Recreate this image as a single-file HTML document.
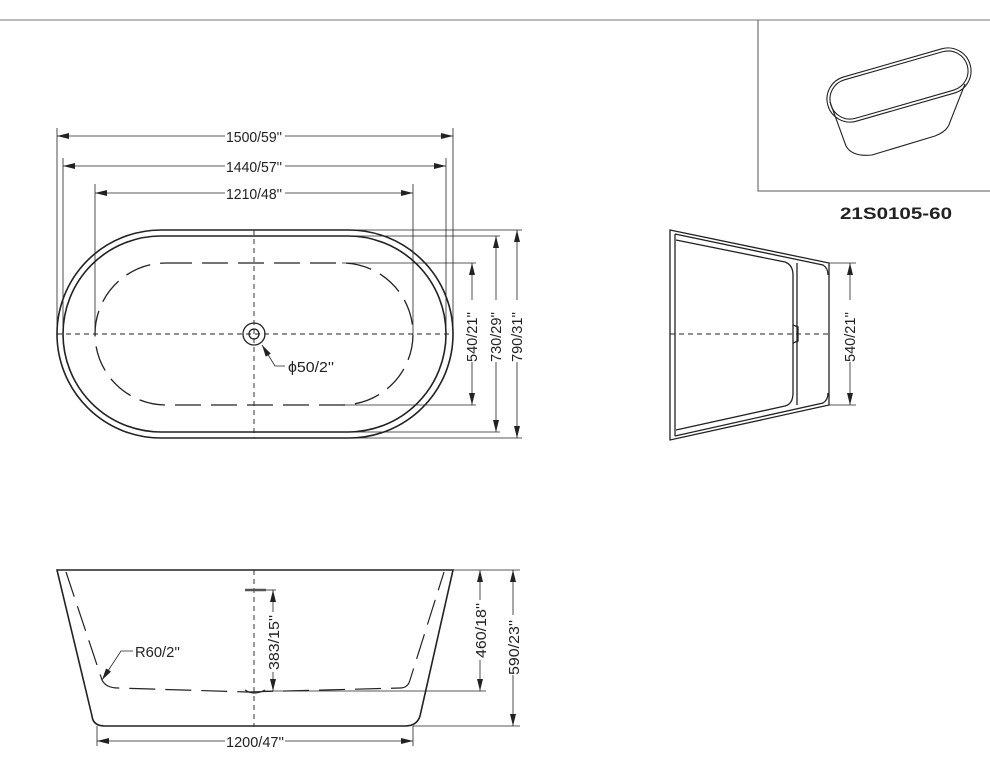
<!DOCTYPE html>
<html><head><meta charset="utf-8"><style>
html,body{margin:0;padding:0;background:#fff;}
svg{display:block;}
text{font-family:"Liberation Sans",sans-serif;font-size:15px;fill:#222;}
</style></head><body>
<svg width="990" height="770" viewBox="0 0 990 770" xmlns="http://www.w3.org/2000/svg">
<defs>
<marker id="a" viewBox="0 0 12 6" refX="12" refY="3" markerWidth="12" markerHeight="6" orient="auto-start-reverse" markerUnits="userSpaceOnUse"><path d="M0,0 L12,3 L0,6 Z" fill="#222"/></marker>
</defs>
<g stroke="#222" fill="none">
<!-- top line & inset box -->
<line x1="0" y1="20" x2="990" y2="20" stroke="#777" stroke-width="1"/>
<polyline points="758,20 758,191 990,191" stroke="#555" stroke-width="1"/>
<!-- inset tub -->
<g stroke-width="1.1">
<rect x="825" y="62" width="148" height="46" rx="23" transform="rotate(-16 899 85)"/>
<rect x="828" y="65" width="142" height="40" rx="20" transform="rotate(-16 899 85)"/>
<path d="M830,102 L846,146 Q852,157 872,155 L935,136 Q948,131 950,122 L965,84"/>
</g>

<!-- PLAN VIEW -->
<g stroke-width="1.6">
<rect x="57" y="230" width="396" height="208" rx="104"/>
<rect x="63" y="236" width="383" height="196" rx="98"/>
</g>
<rect x="95" y="263" width="318" height="142" rx="71" stroke-width="1.3" stroke-dasharray="26,10"/>
<g stroke-width="0.9" stroke-dasharray="5,4">
<line x1="57" y1="334" x2="453" y2="334"/>
<line x1="254" y1="230" x2="254" y2="438"/>
</g>
<circle cx="254" cy="334" r="11" stroke-width="1.3"/>
<circle cx="254" cy="334" r="5" stroke-width="1.3"/>
<polyline points="285,366 275,366 262,345" stroke-width="0.8" marker-end="url(#a)"/>
<!-- horizontal dims -->
<g stroke-width="0.8">
<line x1="57" y1="128" x2="57" y2="334"/><line x1="453" y1="128" x2="453" y2="334"/>
<line x1="63" y1="158" x2="63" y2="334"/><line x1="446" y1="158" x2="446" y2="334"/>
<line x1="95" y1="184" x2="95" y2="334"/><line x1="413" y1="184" x2="413" y2="334"/>
<line x1="57" y1="136" x2="225" y2="136" marker-start="url(#a)"/><line x1="285" y1="136" x2="453" y2="136" marker-end="url(#a)"/>
<line x1="63" y1="166" x2="225" y2="166" marker-start="url(#a)"/><line x1="285" y1="166" x2="446" y2="166" marker-end="url(#a)"/>
<line x1="95" y1="193" x2="225" y2="193" marker-start="url(#a)"/><line x1="285" y1="193" x2="413" y2="193" marker-end="url(#a)"/>
<!-- vertical dims -->
<line x1="254" y1="230" x2="522" y2="230"/><line x1="254" y1="438" x2="522" y2="438"/>
<line x1="254" y1="236" x2="500" y2="236"/><line x1="254" y1="432" x2="500" y2="432"/>
<line x1="342" y1="263" x2="476" y2="263"/><line x1="342" y1="405" x2="476" y2="405"/>
<line x1="472" y1="263" x2="472" y2="300" marker-start="url(#a)"/><line x1="472" y1="362" x2="472" y2="405" marker-end="url(#a)"/>
<line x1="496" y1="236" x2="496" y2="300" marker-start="url(#a)"/><line x1="496" y1="362" x2="496" y2="432" marker-end="url(#a)"/>
<line x1="517" y1="230" x2="517" y2="300" marker-start="url(#a)"/><line x1="517" y1="362" x2="517" y2="438" marker-end="url(#a)"/>
</g>

<!-- SIDE VIEW -->
<g stroke-width="1.3">
<path d="M670,230 L829,263 L829,405 L670,440 Z"/>
<path d="M675,234 L823,265 Q828,268 828,275"/>
<path d="M675,436 L823,403 Q828,400 828,393"/>
<path d="M675,234 L675,436"/>
<path d="M676,240 L785,262 Q793,265 793,275 L793,393 Q793,404 785,406 L676,430"/>
<path d="M797,263 L797,405"/>
<path d="M793,325 L798,327 L798,341 L793,343"/>
</g>
<line x1="670" y1="334" x2="829" y2="334" stroke-width="0.9" stroke-dasharray="5,4"/>
<g stroke-width="0.8">
<line x1="829" y1="263" x2="856" y2="263"/><line x1="829" y1="405" x2="856" y2="405"/>
<line x1="850" y1="263" x2="850" y2="300" marker-start="url(#a)"/><line x1="850" y1="362" x2="850" y2="405" marker-end="url(#a)"/>
</g>

<!-- FRONT VIEW -->
<g stroke-width="1.6">
<path d="M57,570 L453,570 L420,716 Q417,726 405,726 L105,726 Q93,726 92,716 Z"/>
</g>
<path d="M66,572 L102,680 Q106,688 118,688 L247,692 M400,688 Q408,688 410,680 L444,572" stroke-width="1.2" stroke-dasharray="26,10"/>
<path d="M247,692 L400,688" stroke-width="1.2" stroke-dasharray="26,10"/>
<path d="M245,690 Q254,696 265,690" stroke-width="1.2"/>
<line x1="254" y1="570" x2="254" y2="726" stroke-width="0.9" stroke-dasharray="5,4"/>
<line x1="245" y1="590" x2="266" y2="590" stroke-width="2.5" stroke="#555"/>
<g stroke-width="0.8">
<line x1="266" y1="590" x2="276" y2="590"/>
<line x1="273" y1="590" x2="273" y2="612" marker-start="url(#a)"/><line x1="273" y1="672" x2="273" y2="691" marker-end="url(#a)"/>
<polyline points="133,651 121,651 102,680" marker-end="url(#a)"/>
<line x1="453" y1="570" x2="520" y2="570"/><line x1="265" y1="691" x2="486" y2="691"/><line x1="413" y1="726" x2="520" y2="726"/>
<line x1="480" y1="570" x2="480" y2="600" marker-start="url(#a)"/><line x1="480" y1="660" x2="480" y2="691" marker-end="url(#a)"/>
<line x1="513" y1="570" x2="513" y2="615" marker-start="url(#a)"/><line x1="513" y1="675" x2="513" y2="726" marker-end="url(#a)"/>
<line x1="97" y1="726" x2="97" y2="746"/><line x1="413" y1="726" x2="413" y2="746"/>
<line x1="97" y1="741" x2="225" y2="741" marker-start="url(#a)"/><line x1="285" y1="741" x2="413" y2="741" marker-end="url(#a)"/>
</g>
</g>

<!-- labels -->
<text x="226" y="142" textLength="56" lengthAdjust="spacingAndGlyphs">1500/59''</text>
<text x="226" y="172" textLength="56" lengthAdjust="spacingAndGlyphs">1440/57''</text>
<text x="226" y="199" textLength="56" lengthAdjust="spacingAndGlyphs">1210/48''</text>
<text x="288" y="372" textLength="46" lengthAdjust="spacingAndGlyphs">ϕ50/2''</text>
<text transform="translate(477,362) rotate(-90)" textLength="50" lengthAdjust="spacingAndGlyphs">540/21''</text>
<text transform="translate(501,362) rotate(-90)" textLength="50" lengthAdjust="spacingAndGlyphs">730/29''</text>
<text transform="translate(522,362) rotate(-90)" textLength="50" lengthAdjust="spacingAndGlyphs">790/31''</text>
<text transform="translate(855,362) rotate(-90)" textLength="50" lengthAdjust="spacingAndGlyphs">540/21''</text>
<text x="135" y="657" textLength="45" lengthAdjust="spacingAndGlyphs">R60/2''</text>
<text transform="translate(279,670) rotate(-90)" textLength="55" lengthAdjust="spacingAndGlyphs">383/15''</text>
<text transform="translate(486,658) rotate(-90)" textLength="55" lengthAdjust="spacingAndGlyphs">460/18''</text>
<text transform="translate(519,675) rotate(-90)" textLength="55" lengthAdjust="spacingAndGlyphs">590/23''</text>
<text x="226" y="747" textLength="58" lengthAdjust="spacingAndGlyphs">1200/47''</text>
<text x="840" y="219" style="font-size:17px;font-weight:bold" textLength="112" lengthAdjust="spacingAndGlyphs">21S0105-60</text>
</svg>
</body></html>
